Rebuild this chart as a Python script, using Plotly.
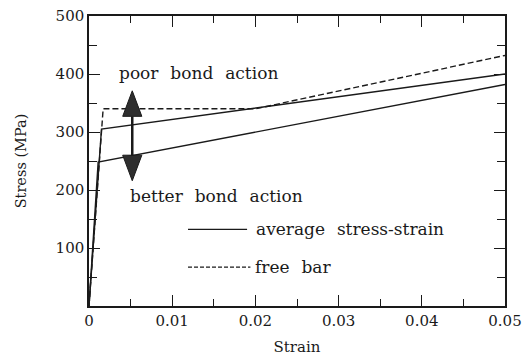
import plotly.graph_objects as go

# Stress-strain relations (strain, stress in MPa)
free_bar_strain = [0.0, 0.0017, 0.020, 0.050]
free_bar_stress = [0, 340, 340, 432]

poor_bond_strain = [0.0, 0.0015, 0.050]
poor_bond_stress = [0, 305, 400]

better_bond_strain = [0.0, 0.0011, 0.050]
better_bond_stress = [0, 248, 382]

# Double arrow between the two average curves
arrow_strain = 0.0052
arrow_top = 371
arrow_bottom = 216

x_tick_vals = [0, 0.01, 0.02, 0.03, 0.04, 0.05]
x_tick_text = ["0", "0.01", "0.02", "0.03", "0.04", "0.05"]
y_tick_vals = [100, 200, 300, 400, 500]
y_tick_text = ["100", "200", "300", "400", "500"]

FONT = "DejaVu Serif"
INK = "#1a1a1a"
SP = "\u2002\u2009"  # wide word gap

fig = go.Figure()

line_style = dict(color=INK, width=1.4)
fig.add_trace(go.Scatter(x=poor_bond_strain, y=poor_bond_stress, mode="lines",
                         line=line_style, hoverinfo="skip"))
fig.add_trace(go.Scatter(x=better_bond_strain, y=better_bond_stress, mode="lines",
                         line=line_style, hoverinfo="skip"))
fig.add_trace(go.Scatter(x=free_bar_strain, y=free_bar_stress, mode="lines",
                         line=dict(color=INK, width=1.4, dash="6px,3px"), hoverinfo="skip"))

# Arrow shaft and heads
head_half_w = 0.00115
head_h = 44
fig.add_trace(go.Scatter(x=[arrow_strain, arrow_strain],
                         y=[arrow_top - head_h, arrow_bottom + head_h],
                         mode="lines", line=dict(color=INK, width=2.5), hoverinfo="skip"))
for tip, sign in ((arrow_top, -1), (arrow_bottom, 1)):
    base = tip + sign * head_h
    fig.add_trace(go.Scatter(
        x=[arrow_strain - head_half_w, arrow_strain + head_half_w, arrow_strain, arrow_strain - head_half_w],
        y=[base, base, tip, base],
        mode="lines", fill="toself", fillcolor="#2e2e2e",
        line=dict(color=INK, width=1), hoverinfo="skip"))

text_font = dict(family=FONT, size=17, color=INK)
fig.add_annotation(x=0.0034, y=401, text=f"poor{SP}bond{SP}action", showarrow=False,
                   xanchor="left", yanchor="middle", font=text_font)
fig.add_annotation(x=0.0047, y=190, text=f"better{SP}bond{SP}action", showarrow=False,
                   xanchor="left", yanchor="middle", font=text_font)

# Key
fig.add_shape(type="line", x0=0.0119, x1=0.0190, y0=132, y1=132, line=dict(color=INK, width=1.3))
fig.add_shape(type="line", x0=0.0119, x1=0.0194, y0=67, y1=67,
              line=dict(color=INK, width=1.3, dash="4px,2px"))
fig.add_annotation(x=0.0198, y=133, text=f"average{SP}stress-strain", showarrow=False,
                   xanchor="left", yanchor="middle", font=text_font)
fig.add_annotation(x=0.0197, y=68, text=f"free{SP}bar", showarrow=False,
                   xanchor="left", yanchor="middle", font=text_font)

tick_style = dict(ticks="inside", tickcolor=INK, tickwidth=1.2, showgrid=False, zeroline=False)

fig.update_xaxes(range=[0, 0.05], tickmode="array", tickvals=x_tick_vals, ticktext=x_tick_text,
                 ticklen=11, showline=True, linecolor=INK, linewidth=1.5, mirror=True, automargin=False,
                 minor=dict(dtick=0.005, tick0=0, ticks="inside", ticklen=7, tickcolor=INK, tickwidth=1.2),
                 tickfont=dict(family=FONT, size=15, color=INK),
                 title=dict(text="Strain", font=dict(family=FONT, size=15, color=INK), standoff=13),
                 **tick_style)
fig.update_yaxes(range=[0, 500], tickmode="array", tickvals=y_tick_vals, ticktext=y_tick_text,
                 ticklen=11, showline=True, linecolor=INK, linewidth=1.5, mirror=True, automargin=False,
                 minor=dict(dtick=50, tick0=0, ticks="inside", ticklen=8, tickcolor=INK, tickwidth=1.2),
                 tickfont=dict(family=FONT, size=15, color=INK),
                 title=dict(text="Stress (MPa)", font=dict(family=FONT, size=14.5, color=INK), standoff=26),
                 **tick_style)

# Tick marks on the top and right frame edges
fig.update_layout(
    xaxis2=dict(overlaying="x", side="top", range=[0, 0.05], tickmode="array", tickvals=x_tick_vals,
                showticklabels=False, ticklen=11, showline=False, automargin=False,
                minor=dict(dtick=0.005, tick0=0, ticks="inside", ticklen=7, tickcolor=INK, tickwidth=1.2),
                **tick_style),
    yaxis2=dict(overlaying="y", side="right", range=[0, 500], tickmode="array", tickvals=y_tick_vals,
                showticklabels=False, ticklen=11, showline=False, automargin=False,
                minor=dict(dtick=50, tick0=0, ticks="inside", ticklen=8, tickcolor=INK, tickwidth=1.2),
                **tick_style),
)
fig.add_trace(go.Scatter(x=[0.0], y=[0], xaxis="x2", yaxis="y2", mode="markers",
                         marker=dict(opacity=0), hoverinfo="skip"))

fig.update_layout(
    width=525, height=361,
    margin=dict(l=89, r=20, t=16, b=55),
    paper_bgcolor="white", plot_bgcolor="white",
    showlegend=False,
)

fig.write_html("out.html")
